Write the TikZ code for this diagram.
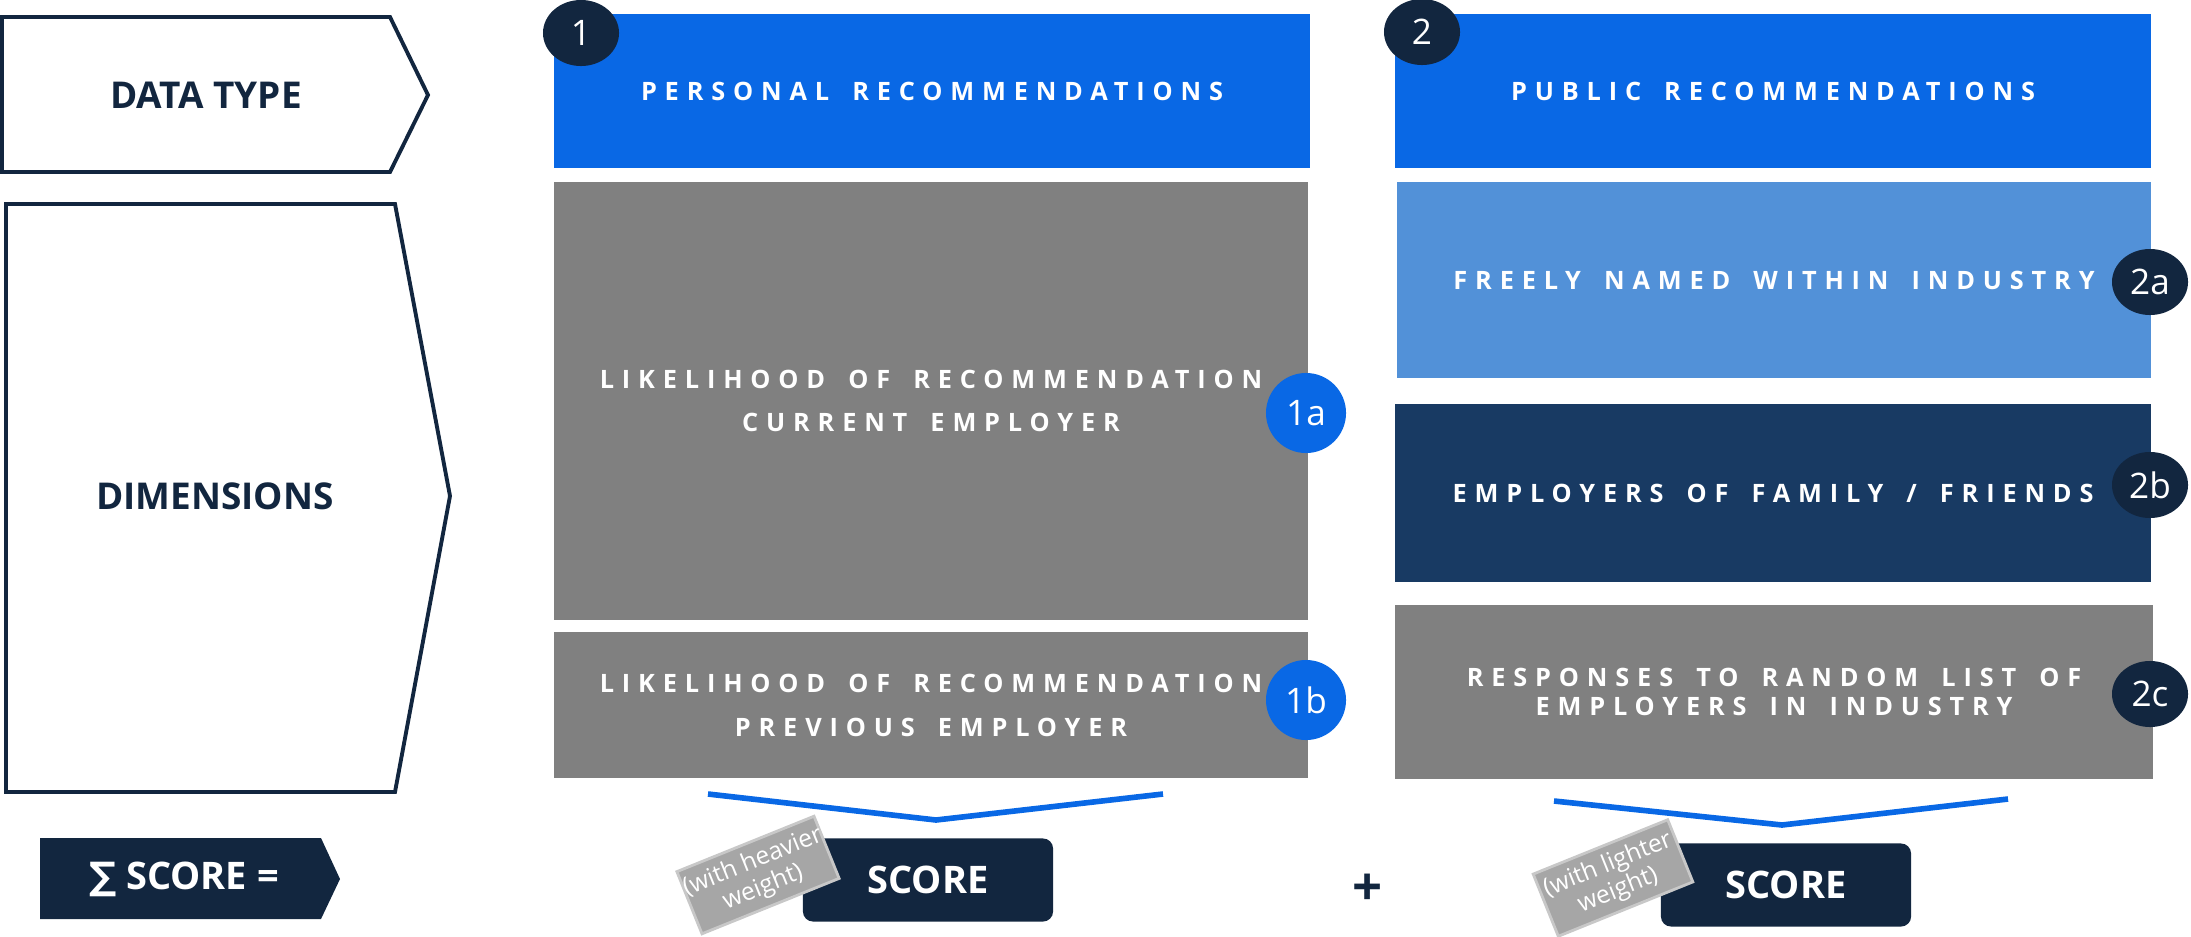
\documentclass[tikz,border=0pt]{standalone}
\usepackage{fontspec}
\setmainfont{Open Sans}
\newfontfamily\spaced[LetterSpace=31,WordSpace=1.6]{Open Sans}
\newfontfamily\symbolfont{DejaVu Sans}
\usepackage{tikz}
\usetikzlibrary{shapes.geometric}
\usepackage{xcolor}

\definecolor{navy}{HTML}{12263F}
\definecolor{midnavy}{HTML}{183A63}
\definecolor{brightblue}{HTML}{0968E5}
\definecolor{lightblue}{HTML}{5291D8}
\definecolor{panelgray}{HTML}{808080}
\definecolor{taggray}{HTML}{A6A6A6}
\definecolor{tagedge}{HTML}{C8C8C8}

\tikzset{
  panel/.style={rectangle, inner sep=0pt, outer sep=0pt, text=white, align=center,
    font=\spaced\bfseries\fontsize{7.2}{12.2}\selectfont},
  rowlabel/.style={text=navy, font=\bfseries\fontsize{10.5}{12}\selectfont},
  navybadge/.style={ellipse, fill=navy, text=white, inner sep=0pt,
    minimum width=0.76cm, minimum height=0.66cm, font=\fontsize{10}{12}\selectfont},
  bluebadge/.style={circle, fill=brightblue, text=white, inner sep=0pt,
    minimum size=0.8cm, font=\fontsize{10}{12}\selectfont},
  bracket/.style={brightblue, line width=1.6pt},
  scorebox/.style={rectangle, rounded corners=0.1cm, fill=navy, text=white,
    minimum width=2.5cm, minimum height=0.83cm, font=\bfseries\fontsize{10.8}{12}\selectfont},
  weighttag/.style={rectangle, fill=taggray, draw=tagedge, line width=0.8pt, text=white,
    minimum width=1.45cm, minimum height=0.67cm, inner sep=0pt, align=center, rotate=22,
    font=\fontsize{7}{7.8}\selectfont}
}

\begin{document}
\begin{tikzpicture}[x=0.01cm, y=-0.01cm]
\useasboundingbox (0,0) rectangle (2191,936);

% row labels
\draw[navy, line width=1.1pt, fill=white] (2,17) -- (390,17) -- (428,95) -- (390,172) -- (2,172) -- cycle;
\node[rowlabel] (datatype) at (206,95) {DATA TYPE};
\draw[navy, line width=1.1pt, fill=white] (6,204) -- (395,204) -- (450,496) -- (395,792) -- (6,792) -- cycle;
\node[rowlabel] (dimensions) at (215,496) {DIMENSIONS};

% personal column
\node[panel, fill=brightblue, minimum width=7.55cm, minimum height=1.53cm] (personal) at (932,91) {PERSONAL RECOMMENDATIONS};
\node[panel, fill=panelgray, minimum width=7.53cm, minimum height=4.38cm] (current) at (931,401) {LIKELIHOOD OF RECOMMENDATION\\CURRENT EMPLOYER};
\node[panel, fill=panelgray, minimum width=7.53cm, minimum height=1.45cm,
  font=\spaced\bfseries\fontsize{7.2}{12.5}\selectfont] (previous) at (931,705) {LIKELIHOOD OF RECOMMENDATION\\PREVIOUS EMPLOYER};

% public column
\node[panel, fill=brightblue, minimum width=7.56cm, minimum height=1.53cm] (public) at (1773,91) {PUBLIC RECOMMENDATIONS};
\node[panel, fill=lightblue, minimum width=7.54cm, minimum height=1.96cm] (freely) at (1774,280) {FREELY NAMED WITHIN INDUSTRY};
\node[panel, fill=midnavy, minimum width=7.56cm, minimum height=1.78cm] (family) at (1773,493) {EMPLOYERS OF FAMILY / FRIENDS};
\node[panel, fill=panelgray, minimum width=7.58cm, minimum height=1.73cm,
  font=\spaced\bfseries\fontsize{7.2}{8.2}\selectfont] (random) at (1774,692) {RESPONSES TO RANDOM LIST OF\\EMPLOYERS IN INDUSTRY};

% numbered badges
\node[navybadge] (b1) at (581,33) {1};
\node[navybadge] (b2) at (1422,32) {2};
\node[bluebadge] (b1a) at (1306,413) {1a};
\node[bluebadge] (b1b) at (1306,700) {1b};
\node[navybadge] (b2a) at (2150,282) {2a};
\node[navybadge] (b2b) at (2150,485) {2b};
\node[navybadge] (b2c) at (2150,694) {2c};

% brackets under the columns
\coordinate (v1l) at (708,794);
\coordinate (v1m) at (936,820);
\coordinate (v1r) at (1163,794);
\draw[bracket] (v1l) -- (v1m) -- (v1r);
\coordinate (v2l) at (1554,801);
\coordinate (v2m) at (1782,825);
\coordinate (v2r) at (2008,799);
\draw[bracket] (v2l) -- (v2m) -- (v2r);

% score row
\fill[navy] (40,838) -- (321,838) -- (340,879) -- (321,919) -- (40,919) -- cycle;
\node[text=white, font=\bfseries\fontsize{10.8}{12}\selectfont] (sum) at (184,879) {{\symbolfont ∑} SCORE =};
\node[scorebox] (score1) at (928,880) {SCORE};
\node[weighttag] (w1) at (758,875) {(with heavier\\weight)};
\node[text=navy, font=\bfseries\fontsize{15}{16}\selectfont] (plus) at (1368,890) {+};
\node[scorebox] (score2) at (1786,885) {SCORE};
\node[weighttag] (w2) at (1613,878) {(with lighter\\weight)};
\end{tikzpicture}
\end{document}
